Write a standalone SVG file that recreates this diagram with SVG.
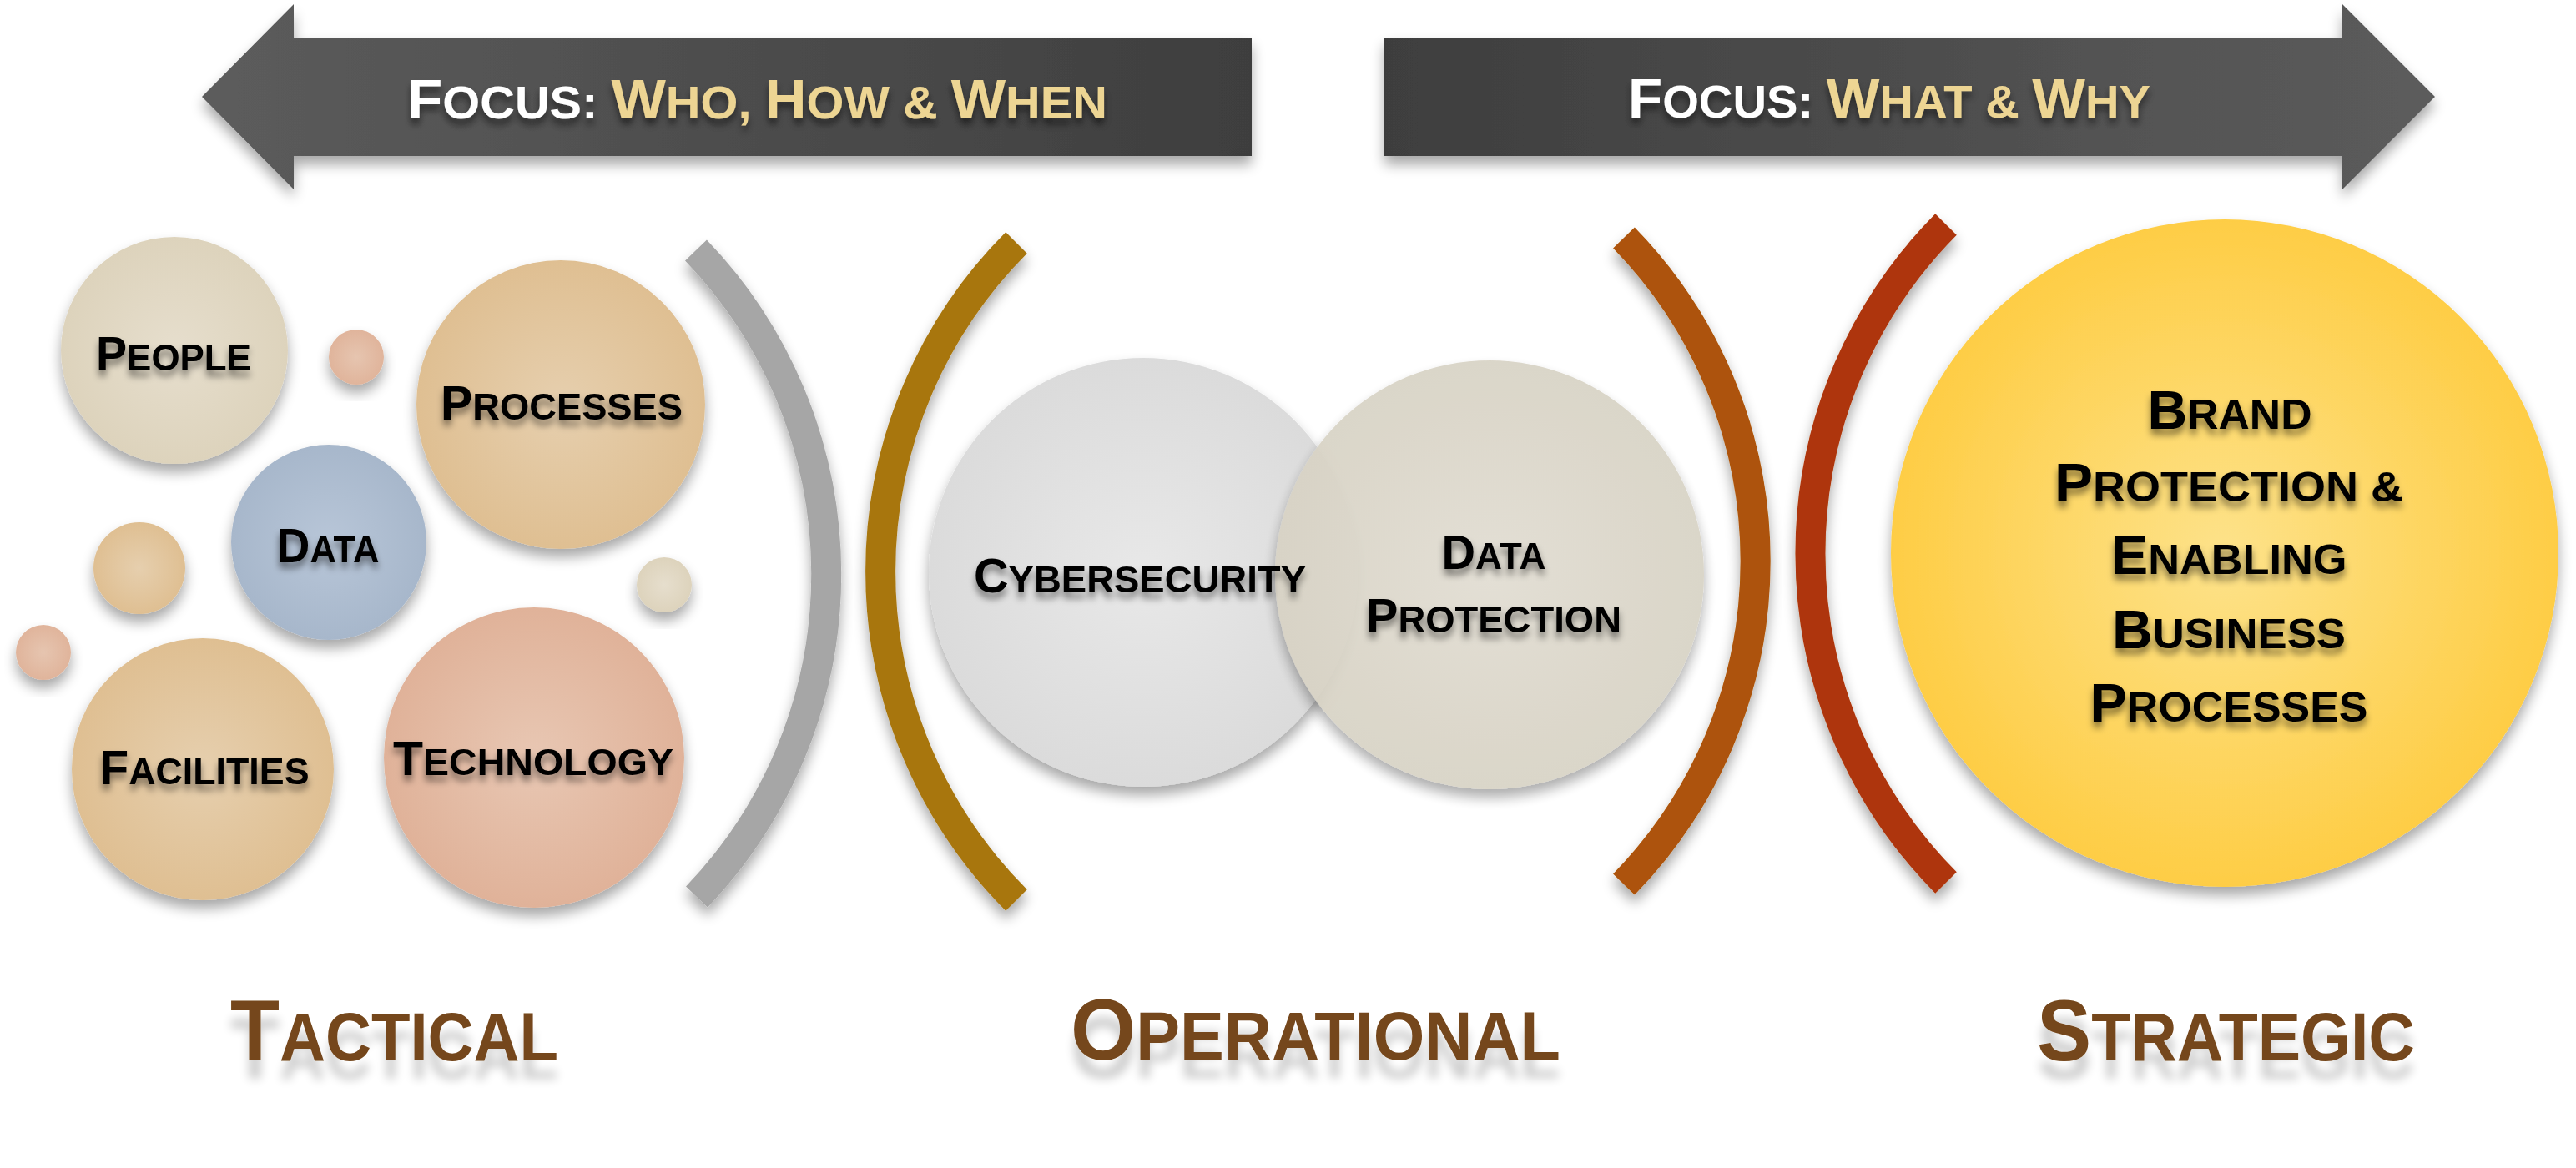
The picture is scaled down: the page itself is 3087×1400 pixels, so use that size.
<svg xmlns="http://www.w3.org/2000/svg" width="3087" height="1400" viewBox="0 0 3087 1400">
<defs>
<linearGradient id="gArrowL" x1="0" y1="0" x2="1" y2="0"><stop offset="0" stop-color="#5c5c5c"/><stop offset="1" stop-color="#3e3e3e"/></linearGradient>
<linearGradient id="gArrowR" x1="0" y1="0" x2="1" y2="0"><stop offset="0" stop-color="#3e3e3e"/><stop offset="1" stop-color="#5c5c5c"/></linearGradient>
<radialGradient id="gPeople"><stop offset="0" stop-color="#e6decd"/><stop offset="1" stop-color="#ddd3bc"/></radialGradient>
<radialGradient id="gTan"><stop offset="0" stop-color="#e6cfae"/><stop offset="1" stop-color="#dfbf92"/></radialGradient>
<radialGradient id="gData"><stop offset="0" stop-color="#b8c6d8"/><stop offset="1" stop-color="#a7b7cb"/></radialGradient>
<radialGradient id="gTech"><stop offset="0" stop-color="#e8c7b3"/><stop offset="1" stop-color="#e0b299"/></radialGradient>
<radialGradient id="gPink"><stop offset="0" stop-color="#e6c5b0"/><stop offset="1" stop-color="#e0b49b"/></radialGradient>
<radialGradient id="gCyber"><stop offset="0" stop-color="#e8e8e8"/><stop offset="1" stop-color="#dbdbdb"/></radialGradient>
<radialGradient id="gDP"><stop offset="0" stop-color="#e1ddd2"/><stop offset="1" stop-color="#d8d3c5"/></radialGradient>
<radialGradient id="gBrand"><stop offset="0" stop-color="#fde28a"/><stop offset="1" stop-color="#fecd45"/></radialGradient>
<filter id="shadow" x="-20%" y="-20%" width="140%" height="150%">
<feGaussianBlur in="SourceAlpha" stdDeviation="8"/><feOffset dy="10" result="b"/>
<feComponentTransfer><feFuncA type="linear" slope="0.35"/></feComponentTransfer>
<feMerge><feMergeNode/><feMergeNode in="SourceGraphic"/></feMerge>
</filter>
<filter id="tshadow" x="-10%" y="-30%" width="120%" height="180%">
<feGaussianBlur in="SourceAlpha" stdDeviation="4"/><feOffset dy="7"/>
<feComponentTransfer><feFuncA type="linear" slope="0.5"/></feComponentTransfer>
<feMerge><feMergeNode/><feMergeNode in="SourceGraphic"/></feMerge>
</filter>
<filter id="lshadow" x="-10%" y="-30%" width="120%" height="200%">
<feGaussianBlur in="SourceAlpha" stdDeviation="6"/><feOffset dy="22"/>
<feComponentTransfer><feFuncA type="linear" slope="0.2"/></feComponentTransfer>
<feMerge><feMergeNode/><feMergeNode in="SourceGraphic"/></feMerge>
</filter>
</defs>
<style>
text{font-family:"Liberation Sans","Arial",sans-serif;font-weight:bold;}
.head{font-size:55px;}
.head .c{font-size:66px;}
.lbl{font-size:45px;fill:#000;text-anchor:middle;}
.lbl .c{font-size:57px;}
.brand{font-size:50px;fill:#000;text-anchor:middle;}
.brand .c{font-size:64px;}
.tier{font-size:82px;fill:#74461b;}
.tier .c{font-size:104px;}
.arc{fill:none;stroke-width:36;stroke-linecap:butt;}
</style>
<rect width="3087" height="1400" fill="#ffffff"/>

<g id="arrow-left" filter="url(#shadow)">
<polygon points="242,116 352,5 352,45 1500,45 1500,187 352,187 352,227" fill="url(#gArrowL)"/>
<text class="head" x="488" y="142" textLength="839" lengthAdjust="spacingAndGlyphs" filter="url(#tshadow)"><tspan fill="#ffffff"><tspan class="c">F</tspan>OCUS: </tspan><tspan fill="#edd593"><tspan class="c">W</tspan>HO, <tspan class="c">H</tspan>OW &amp; <tspan class="c">W</tspan>HEN</tspan></text>
</g>

<g id="arrow-right" filter="url(#shadow)">
<polygon points="1659,45 2807,45 2807,5 2918,116 2807,227 2807,187 1659,187" fill="url(#gArrowR)"/>
<text class="head" x="1951" y="141" textLength="626" lengthAdjust="spacingAndGlyphs" filter="url(#tshadow)"><tspan fill="#ffffff"><tspan class="c">F</tspan>OCUS: </tspan><tspan fill="#edd593"><tspan class="c">W</tspan>HAT &amp; <tspan class="c">W</tspan>HY</tspan></text>
</g>

<g id="connectors">
<path class="arc" d="M 834 300 A 560 560 0 0 1 835 1075" stroke="#a6a6a6" filter="url(#shadow)"/>
<path class="arc" d="M 1218 291 A 558 558 0 0 0 1218 1079" stroke="#a8760f" filter="url(#shadow)"/>
<path class="arc" d="M 1946 285 A 555 555 0 0 1 1946 1060" stroke="#ad5307" filter="url(#shadow)"/>
<path class="arc" d="M 2332 269 A 560 560 0 0 0 2332 1058" stroke="#ae3608" filter="url(#shadow)"/>
</g>

<g id="dot-1" filter="url(#shadow)"><circle cx="427" cy="428" r="33" fill="url(#gPink)"/></g>
<g id="dot-2" filter="url(#shadow)"><circle cx="167" cy="681" r="55" fill="url(#gTan)"/></g>
<g id="dot-3" filter="url(#shadow)"><circle cx="796" cy="701" r="33" fill="url(#gPeople)"/></g>
<g id="dot-4" filter="url(#shadow)"><circle cx="52" cy="782" r="33" fill="url(#gPink)"/></g>

<g id="people">
<circle cx="209" cy="420" r="136" fill="url(#gPeople)" filter="url(#shadow)"/>
<text class="lbl" x="208" y="444" textLength="186" lengthAdjust="spacingAndGlyphs" filter="url(#tshadow)"><tspan class="c">P</tspan>EOPLE</text>
</g>
<g id="processes">
<circle cx="672" cy="485" r="173" fill="url(#gTan)" filter="url(#shadow)"/>
<text class="lbl" x="673" y="503" textLength="290" lengthAdjust="spacingAndGlyphs" filter="url(#tshadow)"><tspan class="c">P</tspan>ROCESSES</text>
</g>
<g id="data">
<circle cx="394" cy="650" r="117" fill="url(#gData)" filter="url(#shadow)"/>
<text class="lbl" x="393" y="674" textLength="123" lengthAdjust="spacingAndGlyphs" filter="url(#tshadow)"><tspan class="c">D</tspan>ATA</text>
</g>
<g id="facilities">
<circle cx="243" cy="922" r="157" fill="url(#gTan)" filter="url(#shadow)"/>
<text class="lbl" x="245" y="940" textLength="251" lengthAdjust="spacingAndGlyphs" filter="url(#tshadow)"><tspan class="c">F</tspan>ACILITIES</text>
</g>
<g id="technology">
<circle cx="640" cy="908" r="180" fill="url(#gTech)" filter="url(#shadow)"/>
<text class="lbl" x="639" y="929" textLength="336" lengthAdjust="spacingAndGlyphs" filter="url(#tshadow)"><tspan class="c">T</tspan>ECHNOLOGY</text>
</g>

<g id="cybersecurity">
<circle cx="1370" cy="686" r="257" fill="url(#gCyber)" filter="url(#shadow)"/>
</g>
<g id="data-protection">
<circle cx="1785" cy="689" r="257" fill="url(#gDP)" opacity="0.93" filter="url(#shadow)"/>
<text class="lbl" x="1790" y="682" textLength="125" lengthAdjust="spacingAndGlyphs" filter="url(#tshadow)"><tspan class="c">D</tspan>ATA</text>
<text class="lbl" x="1790" y="758" textLength="306" lengthAdjust="spacingAndGlyphs" filter="url(#tshadow)"><tspan class="c">P</tspan>ROTECTION</text>
</g>
<g id="cybersecurity-label">
<text class="lbl" x="1366" y="710" textLength="398" lengthAdjust="spacingAndGlyphs" filter="url(#tshadow)"><tspan class="c">C</tspan>YBERSECURITY</text>
</g>

<g id="brand">
<circle cx="2666" cy="663" r="400" fill="url(#gBrand)" filter="url(#shadow)"/>
<text class="brand" x="2672" y="514" textLength="197" lengthAdjust="spacingAndGlyphs" filter="url(#tshadow)"><tspan class="c">B</tspan>RAND</text>
<text class="brand" x="2671" y="601" textLength="418" lengthAdjust="spacingAndGlyphs" filter="url(#tshadow)"><tspan class="c">P</tspan>ROTECTION &amp;</text>
<text class="brand" x="2671" y="688" textLength="283" lengthAdjust="spacingAndGlyphs" filter="url(#tshadow)"><tspan class="c">E</tspan>NABLING</text>
<text class="brand" x="2671" y="777" textLength="280" lengthAdjust="spacingAndGlyphs" filter="url(#tshadow)"><tspan class="c">B</tspan>USINESS</text>
<text class="brand" x="2671" y="865" textLength="333" lengthAdjust="spacingAndGlyphs" filter="url(#tshadow)"><tspan class="c">P</tspan>ROCESSES</text>
</g>

<g id="tactical"><text class="tier" x="276" y="1271" textLength="393" lengthAdjust="spacingAndGlyphs" filter="url(#lshadow)"><tspan class="c">T</tspan>ACTICAL</text></g>
<g id="operational"><text class="tier" x="1283" y="1270" textLength="587" lengthAdjust="spacingAndGlyphs" filter="url(#lshadow)"><tspan class="c">O</tspan>PERATIONAL</text></g>
<g id="strategic"><text class="tier" x="2441" y="1271" textLength="453" lengthAdjust="spacingAndGlyphs" filter="url(#lshadow)"><tspan class="c">S</tspan>TRATEGIC</text></g>
</svg>
